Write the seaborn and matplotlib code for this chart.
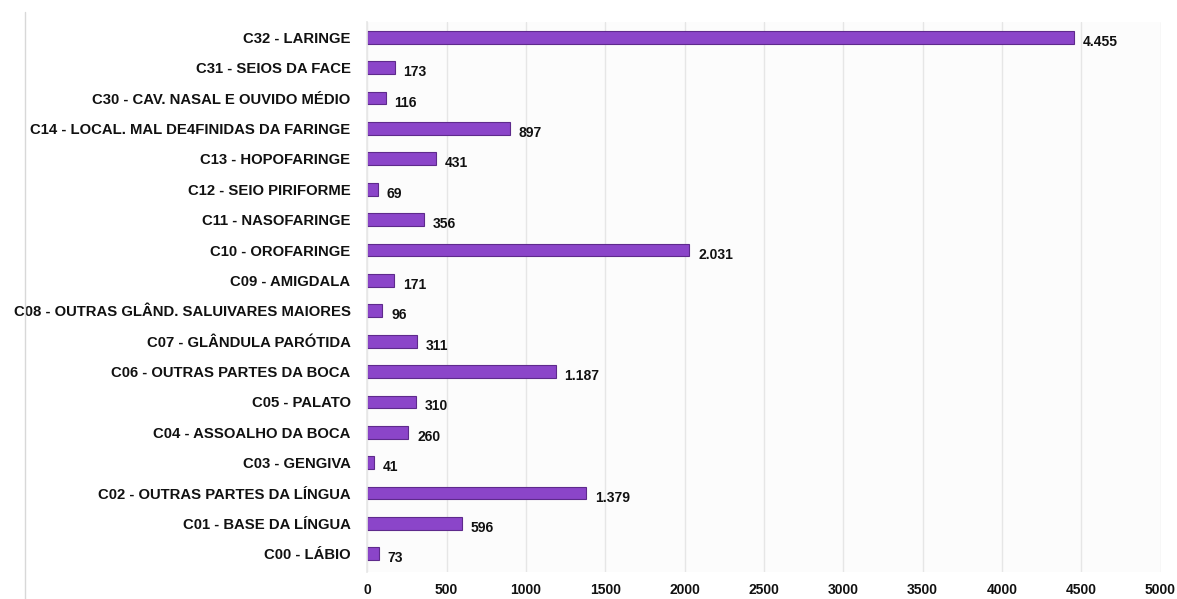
import matplotlib
matplotlib.use("Agg")
import matplotlib.pyplot as plt
from matplotlib.lines import Line2D
import seaborn as sns
import pandas as pd

categories = [
    "C32 - LARINGE",
    "C31 - SEIOS DA FACE",
    "C30 - CAV. NASAL E OUVIDO MÉDIO",
    "C14 - LOCAL. MAL DE4FINIDAS DA FARINGE",
    "C13 - HOPOFARINGE",
    "C12 - SEIO PIRIFORME",
    "C11 - NASOFARINGE",
    "C10 - OROFARINGE",
    "C09 - AMIGDALA",
    "C08 - OUTRAS GLÂND. SALUIVARES MAIORES",
    "C07 - GLÂNDULA PARÓTIDA",
    "C06 - OUTRAS PARTES DA BOCA",
    "C05 - PALATO",
    "C04 - ASSOALHO DA BOCA",
    "C03 - GENGIVA",
    "C02 - OUTRAS PARTES DA LÍNGUA",
    "C01 - BASE DA LÍNGUA",
    "C00 - LÁBIO",
]
values = [4455, 173, 116, 897, 431, 69, 356, 2031, 171, 96, 311, 1187, 310, 260, 41, 1379, 596, 73]
x_ticks = [0, 500, 1000, 1500, 2000, 2500, 3000, 3500, 4000, 4500, 5000]

df = pd.DataFrame({"cat": categories, "val": values})

sns.set_theme(style="whitegrid")
plt.rcParams["font.family"] = ["Liberation Sans", "DejaVu Sans"]

fig = plt.figure(figsize=(11.77, 5.99), dpi=100)
ax = fig.add_axes([0.312, 0.045, 0.674, 0.918])
ax.set_facecolor("#fcfcfc")

sns.barplot(data=df, x="val", y="cat", orient="h", ax=ax, color="#8b45c9",
            width=0.42, edgecolor="#5e2a8c", linewidth=0.8, saturation=1)

def fmt(v):
    return f"{v:,}".replace(",", ".")

for i, v in enumerate(values):
    ax.text(v + 55, i + 0.15, fmt(v), va="center", ha="left",
            fontsize=10, fontweight="bold", color="#111111")

ax.set_xlim(0, 5000)
ax.set_ylim(17.6, -0.5)
ax.set_xticks(x_ticks)
ax.set_xticklabels([str(t) for t in x_ticks], fontsize=10, fontweight="bold", color="#111111")
ax.tick_params(axis="y", labelsize=10.7, colors="#111111", pad=6)
for lbl in ax.get_yticklabels():
    lbl.set_fontweight("bold")
ax.tick_params(axis="x", pad=2)
ax.set_xlabel("")
ax.set_ylabel("")
ax.grid(axis="x", color="#e6e6e6", linewidth=1)
ax.grid(axis="y", visible=False)
for s in ["top", "right", "bottom"]:
    ax.spines[s].set_visible(False)
ax.spines["left"].set_color("#e8e8e8")

fig.add_artist(Line2D([0.021, 0.021], [0.0, 0.98], transform=fig.transFigure,
                      color="#d8d8d8", linewidth=1))

fig.savefig("out.png", dpi=100, facecolor="white")
